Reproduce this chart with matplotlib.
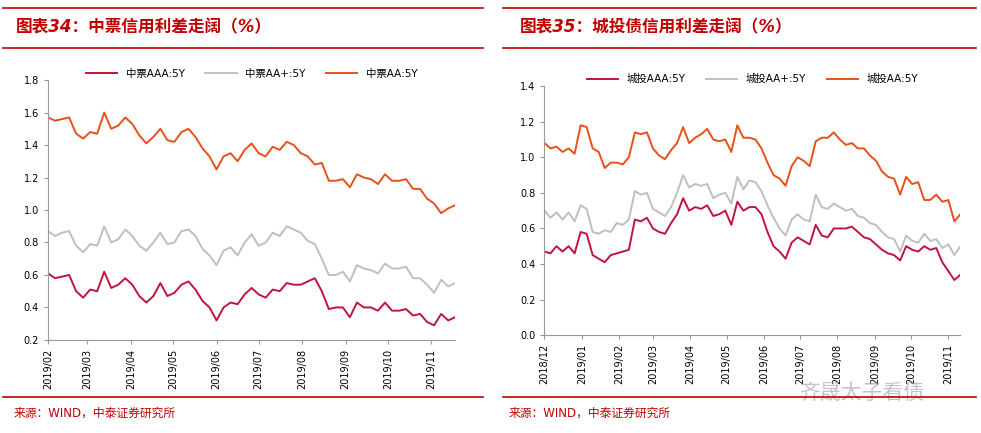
import pandas as pd
import matplotlib.pyplot as plt
import matplotlib.dates as mdates

plt.rcParams["font.family"] = ["DejaVu Sans", "Noto Sans CJK SC"]

# left panel: 中票 spreads, every 5 days from 2019-02-01
mtn_aaa = [0.61, 0.58, 0.59, 0.60, 0.50, 0.46, 0.51, 0.50, 0.62, 0.52,
           0.54, 0.58, 0.54, 0.47, 0.43, 0.47, 0.55, 0.47, 0.49, 0.54,
           0.56, 0.51, 0.44, 0.40, 0.32, 0.40, 0.43, 0.42, 0.48, 0.52,
           0.48, 0.46, 0.51, 0.50, 0.55, 0.54, 0.54, 0.56, 0.58, 0.50,
           0.39, 0.40, 0.40, 0.34, 0.43, 0.40, 0.40, 0.38, 0.43, 0.38,
           0.38, 0.39, 0.35, 0.36, 0.31, 0.29, 0.36, 0.32, 0.34]
mtn_aap = [0.87, 0.84, 0.86, 0.87, 0.78, 0.74, 0.79, 0.78, 0.90, 0.80,
           0.82, 0.88, 0.84, 0.78, 0.75, 0.80, 0.86, 0.79, 0.80, 0.87,
           0.88, 0.84, 0.76, 0.72, 0.66, 0.75, 0.77, 0.72, 0.80, 0.85,
           0.78, 0.80, 0.86, 0.84, 0.90, 0.88, 0.86, 0.81, 0.79, 0.70,
           0.60, 0.60, 0.62, 0.56, 0.66, 0.64, 0.63, 0.61, 0.67, 0.64,
           0.64, 0.65, 0.58, 0.58, 0.54, 0.49, 0.57, 0.53, 0.55]
mtn_aa = [1.57, 1.55, 1.56, 1.57, 1.47, 1.44, 1.48, 1.47, 1.60, 1.50,
          1.52, 1.57, 1.53, 1.46, 1.41, 1.45, 1.50, 1.43, 1.42, 1.48,
          1.50, 1.45, 1.38, 1.33, 1.25, 1.33, 1.35, 1.30, 1.37, 1.41,
          1.35, 1.33, 1.39, 1.37, 1.42, 1.40, 1.35, 1.33, 1.28, 1.29,
          1.18, 1.18, 1.19, 1.14, 1.22, 1.20, 1.19, 1.16, 1.22, 1.18,
          1.18, 1.19, 1.13, 1.13, 1.07, 1.04, 0.98, 1.01, 1.03]

# right panel: 城投 spreads, every 5 days from 2018-12-01
lgfv_aaa = [0.47, 0.46, 0.50, 0.47, 0.50, 0.46, 0.58, 0.57, 0.45, 0.43,
            0.41, 0.45, 0.46, 0.47, 0.48, 0.65, 0.64, 0.66, 0.60, 0.58,
            0.57, 0.63, 0.68, 0.77, 0.70, 0.72, 0.71, 0.73, 0.67, 0.68,
            0.70, 0.62, 0.75, 0.70, 0.72, 0.72, 0.68, 0.58, 0.50, 0.47,
            0.43, 0.52, 0.55, 0.53, 0.51, 0.62, 0.56, 0.55, 0.60, 0.60,
            0.60, 0.61, 0.58, 0.55, 0.54, 0.51, 0.48, 0.46, 0.45, 0.42,
            0.50, 0.48, 0.47, 0.50, 0.48, 0.49, 0.41, 0.36, 0.31, 0.34]
lgfv_aap = [0.70, 0.66, 0.69, 0.65, 0.69, 0.64, 0.73, 0.71, 0.58, 0.57,
            0.59, 0.58, 0.63, 0.62, 0.65, 0.81, 0.79, 0.80, 0.71, 0.69,
            0.67, 0.72, 0.80, 0.90, 0.83, 0.85, 0.84, 0.85, 0.77, 0.79,
            0.80, 0.74, 0.89, 0.82, 0.87, 0.86, 0.81, 0.73, 0.66, 0.60,
            0.56, 0.65, 0.68, 0.65, 0.64, 0.79, 0.72, 0.71, 0.74, 0.72,
            0.70, 0.71, 0.67, 0.66, 0.63, 0.62, 0.58, 0.55, 0.54, 0.47,
            0.56, 0.53, 0.52, 0.57, 0.53, 0.54, 0.49, 0.51, 0.45, 0.50]
lgfv_aa = [1.08, 1.05, 1.06, 1.03, 1.05, 1.02, 1.18, 1.17, 1.05, 1.03,
           0.94, 0.97, 0.97, 0.96, 1.00, 1.14, 1.13, 1.14, 1.05, 1.01,
           0.99, 1.04, 1.08, 1.17, 1.08, 1.11, 1.13, 1.16, 1.10, 1.09,
           1.10, 1.03, 1.18, 1.11, 1.11, 1.10, 1.05, 0.97, 0.90, 0.88,
           0.84, 0.95, 1.00, 0.98, 0.95, 1.09, 1.11, 1.11, 1.14, 1.10,
           1.07, 1.08, 1.05, 1.05, 1.01, 0.98, 0.92, 0.89, 0.88, 0.79,
           0.89, 0.85, 0.86, 0.76, 0.76, 0.79, 0.75, 0.76, 0.64, 0.68]

C_AAA, C_AAP, C_AA = "#C0143C", "#BFBFBF", "#E8501A"
RED = "#C00000"

fig = plt.figure(figsize=(9.81, 4.33), dpi=100)


def panel(rect, start, series, labels, ylim, yticks):
    ax = fig.add_axes(rect)
    dates = pd.date_range(start, periods=len(series[0]), freq="5D")
    for vals, lab, col in zip(series, labels, [C_AAA, C_AAP, C_AA]):
        ax.plot(dates, vals, color=col, lw=1.4, label=lab)
    ax.set_xlim(dates[0], dates[-1])
    ax.set_ylim(*ylim)
    ax.set_yticks(yticks)
    ax.yaxis.set_major_formatter(plt.FormatStrFormatter("%.1f"))
    ax.xaxis.set_major_locator(mdates.MonthLocator())
    ax.xaxis.set_major_formatter(mdates.DateFormatter("%Y/%m"))
    plt.setp(ax.get_xticklabels(), rotation=90)
    ax.tick_params(labelsize=7, length=3, color="#999999")
    for s in ("top", "right"):
        ax.spines[s].set_visible(False)
    for s in ("left", "bottom"):
        ax.spines[s].set_color("#999999")
    ax.legend(loc="lower center", bbox_to_anchor=(0.5, 0.97), ncol=3, frameon=False,
              fontsize=7.5, handlelength=3, columnspacing=2)
    return ax


panel([0.049, 0.215, 0.415, 0.60], "2019-02-01", [mtn_aaa, mtn_aap, mtn_aa],
      ["中票AAA:5Y", "中票AA+:5Y", "中票AA:5Y"], (0.2, 1.8),
      [0.2, 0.4, 0.6, 0.8, 1.0, 1.2, 1.4, 1.6, 1.8])
panel([0.555, 0.226, 0.424, 0.575], "2018-12-01", [lgfv_aaa, lgfv_aap, lgfv_aa],
      ["城投AAA:5Y", "城投AA+:5Y", "城投AA:5Y"], (0.0, 1.4),
      [0.0, 0.2, 0.4, 0.6, 0.8, 1.0, 1.2, 1.4])

# frame lines and titles
for x0, x1 in [(0.003, 0.492), (0.513, 0.995)]:
    for y in (1 - 8 / 433, 1 - 48 / 433, 1 - 397 / 433):
        fig.add_artist(plt.Line2D([x0, x1], [y, y], color=RED, lw=1.2))
fig.text(0.016, 1 - 27 / 433, "图表34：中票信用利差走阔（%）", color=RED, fontsize=12,
         fontweight="bold", style="italic", va="center")
fig.text(0.53, 1 - 27 / 433, "图表35：城投债信用利差走阔（%）", color=RED, fontsize=12,
         fontweight="bold", style="italic", va="center")
fig.text(0.014, 1 - 413 / 433, "来源：WIND，中泰证券研究所", color=RED, fontsize=8.5, va="center")
fig.text(0.518, 1 - 413 / 433, "来源：WIND，中泰证券研究所", color=RED, fontsize=8.5, va="center")
fig.text(0.815, 1 - 393 / 433, "齐晟太子看债", color="#AAAAAA", fontsize=15, va="center",
         alpha=0.7, zorder=0)

fig.savefig("out.png", dpi=100)
